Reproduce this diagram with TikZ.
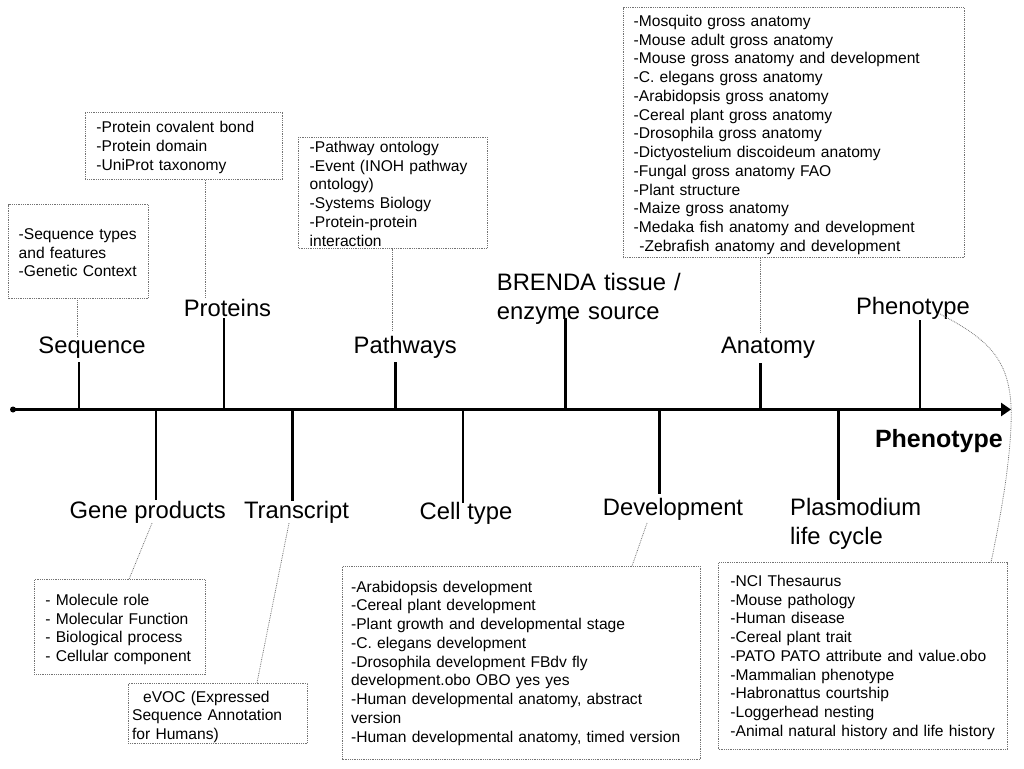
\documentclass[tikz,border=0pt]{standalone}
\usepackage{fontspec}
\setmainfont{Liberation Sans}
\usetikzlibrary{arrows.meta}

\begin{document}
\begin{tikzpicture}[x=1pt, y=-1pt,
    stalk/.style={line width=2.8pt},
    link/.style={densely dotted, black!55, line width=0.8pt},
    term/.style={inner sep=0pt, anchor=base, font=\fontsize{23.8}{28.5}\selectfont},
    list/.style={draw=black!55, densely dotted, line width=0.8pt, anchor=north west,
                 inner ysep=0pt, align=left, font=\fontsize{15.6}{18.75}\selectfont}]

        \useasboundingbox (0,0) rectangle (1024,768);

        % the time line
        \coordinate (axL) at (13,409.5);
        \coordinate (axR) at (1011,409.5);
        \draw[line width=2.8pt, -{Triangle[length=10pt,width=13pt]}] (axL) -- (axR);
        \fill (axL) circle (3pt);

        \foreach \x/\y in {79/362, 224/318, 395.5/362, 565.5/318, 760.7/363, 920/320,
                           156/500, 292.3/501, 463/503, 659.5/494, 838.5/500}
        \draw[stalk] (\x,409.5) -- (\x,\y);

        % labels above the line
        \node[term] (seqlab) at (92,353) {Sequence};
        \node[term] (protlab) at (227.5,316) {Proteins};
        \node[term] (pathlab) at (405.3,353) {Pathways};
        \node[term, anchor=base west, text width=200pt, align=left] (brendalab) at (496.7,290.7) {BRENDA tissue /\\enzyme source};
        \node[term] (anatlab) at (768,353) {Anatomy};
        \node[term] (phenlab) at (913,314) {Phenotype};
        \node[term, anchor=base east, font=\fontsize{25}{30}\selectfont\bfseries] (phenaxis) at (1003,447) {Phenotype};

        % labels below the line
        \node[term] (genelab) at (147.7,518) {Gene products};
        \node[term] (translab) at (296.5,518) {Transcript};
        \node[term] (celllab) at (466,519) {Cell type};
        \node[term] (devlab) at (673,515) {Development};
        \node[term, anchor=base west, text width=150pt, align=left] (plasmlab) at (790,515.5) {Plasmodium\\life cycle};

        % ontology lists
        \node[list, inner xsep=10pt, text width=120pt, text height=34.7pt, text depth=58.5pt] (seqbox) at (8.3,204.3)
            {-Sequence types\\and features\\-Genetic Context};
        \node[list, inner xsep=11pt, text width=175pt, text height=20.8pt, text depth=46.7pt] (protbox) at (85,111.5)
            {-Protein covalent bond\\-Protein domain\\-UniProt taxonomy};
        \node[list, inner xsep=11pt, text width=166.4pt, text height=15.3pt, text depth=95.7pt] (pathbox) at (298.3,136.7)
            {-Pathway ontology\\-Event (INOH pathway\\ontology)\\-Systems Biology\\-Protein-protein\\interaction};
        \node[list, inner xsep=10.6pt, text width=320.1pt, text height=18.7pt, text depth=231.3pt] (anatbox) at (622.7,7.3)
            {-Mosquito gross anatomy\\-Mouse adult gross anatomy\\-Mouse gross anatomy and development\\
             -C. elegans gross anatomy\\-Arabidopsis gross anatomy\\-Cereal plant gross anatomy\\
             -Drosophila gross anatomy\\-Dictyostelium discoideum anatomy\\-Fungal gross anatomy FAO\\
             -Plant structure\\-Maize gross anatomy\\-Medaka fish anatomy and development\\
             \hspace*{5.7pt}-Zebrafish anatomy and development};
        \node[list, inner xsep=11pt, text width=149pt, text height=25.7pt, text depth=69pt] (genebox) at (34,579.3)
            {- Molecule role\\- Molecular Function\\- Biological process\\- Cellular component};
        \node[list, inner xsep=4pt, text width=171.6pt, text height=19pt, text depth=40.8pt] (evocbox) at (127.7,682.7)
            {\hspace*{11pt}eVOC (Expressed\\Sequence Annotation\\for Humans)};
        \node[list, inner xsep=8.4pt, text width=340.9pt, text height=25.7pt, text depth=167.6pt] (devbox) at (342.3,566)
            {-Arabidopsis development\\-Cereal plant development\\-Plant growth and developmental stage\\
             -C. elegans development\\-Drosophila development FBdv fly\\development.obo OBO yes yes\\
             -Human developmental anatomy, abstract\\version\\-Human developmental anatomy, timed version};
        \node[list, inner xsep=11.7pt, text width=265.6pt, text height=23.7pt, text depth=163pt] (ncibox) at (718.3,562.3)
            {-NCI Thesaurus\\-Mouse pathology\\-Human disease\\-Cereal plant trait\\-PATO PATO attribute and value.obo\\
             -Mammalian phenotype\\-Habronattus courtship\\-Loggerhead nesting\\-Animal natural history and life history};

        % links from the lists to the terms
        \draw[link] (seqbox.south -| 77,0) -- (seqlab.north -| 77,0);
        \draw[link] (protbox.south -| 205,0) -- (protlab.north -| 205,0);
        \draw[link, shorten >=5pt] (pathbox.south -| 392.5,0) -- (pathlab.north -| 392.5,0);
        \draw[link, shorten >=4pt] (anatbox.south -| 760,0) -- (anatlab.north -| 760,0);
        \draw[link] (genelab.south -| 152,0) -- (genebox.north -| 129,0);
        \draw[link] (translab.south -| 289,0) -- (evocbox.north -| 257,0);
        \draw[link, shorten <=3pt] (devlab.south -| 648,0) -- (devbox.north -| 632,0);
        \draw[link] (phenlab.base -| 940,0) .. controls (990,340) and (1008,360) .. (1011,405)
            .. controls (1013,450) and (1000,520) .. (ncibox.north -| 991,0);

\end{tikzpicture}
\end{document}
